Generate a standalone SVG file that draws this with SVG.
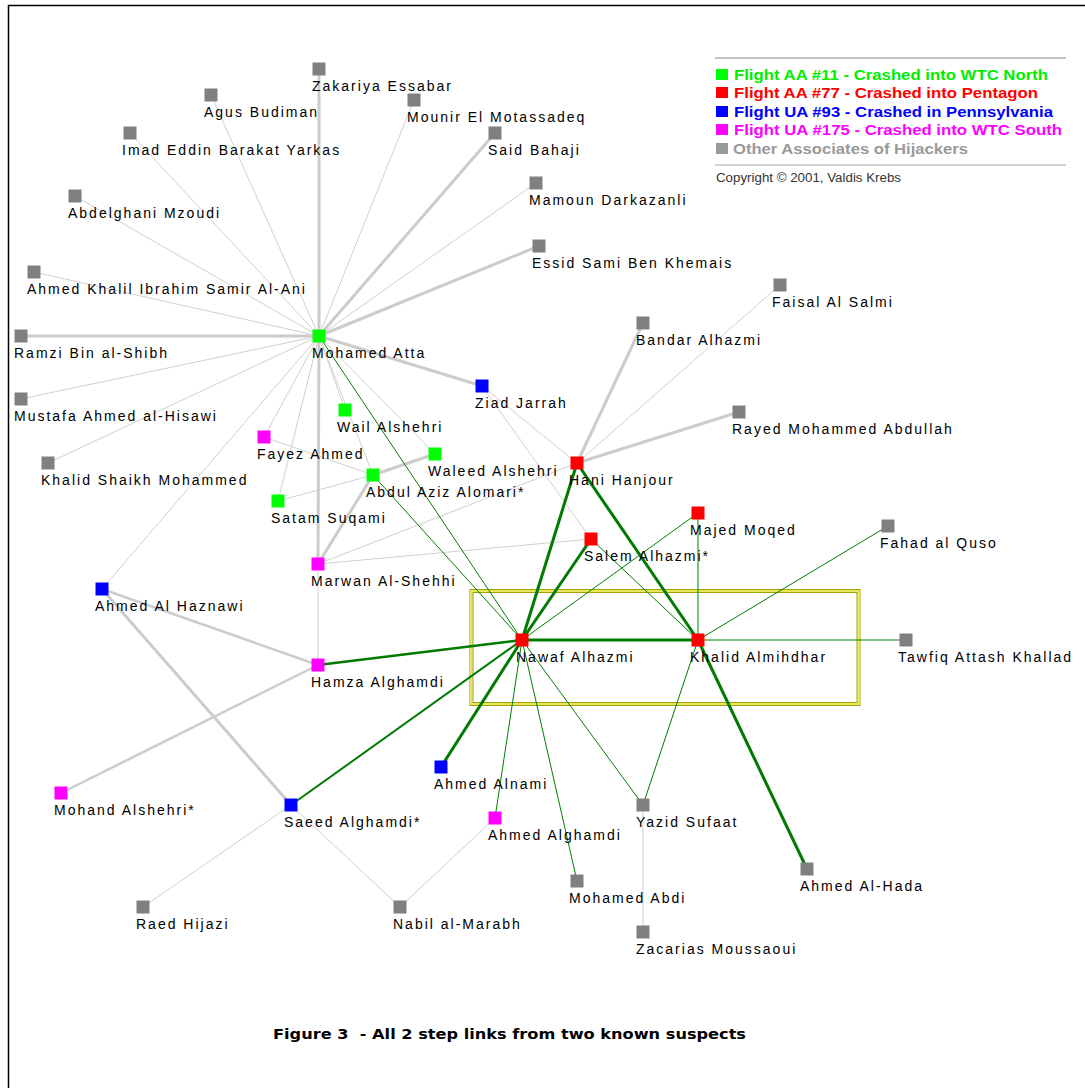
<svg xmlns="http://www.w3.org/2000/svg" width="1085" height="1088" viewBox="0 0 1085 1088">
<style>
.lbl{font-family:"Liberation Sans",Arial,sans-serif;font-size:14px;letter-spacing:2px;fill:#000}
.leg{font-family:"Liberation Sans",Arial,sans-serif;font-size:14px;font-weight:bold}
.e{stroke:#d0d0d0;stroke-width:1;fill:none}
.et{stroke:#cccccc;stroke-width:3;fill:none}
.em{stroke:#cccccc;stroke-width:2.5;fill:none}
.g{stroke:#008000;stroke-width:1;fill:none}
.gt{stroke:#007a00;stroke-width:3;fill:none}
.gm{stroke:#007a00;stroke-width:2.5;fill:none}
.gs{stroke:#007a00;stroke-width:2;fill:none}
.ng{fill:#808080}.nG{fill:#00ff00}.nR{fill:#ff0000}.nB{fill:#0000ff}.nM{fill:#ff00ff}
</style>
<rect x="0" y="0" width="1085" height="1088" fill="#fff"/>
<path d="M8.5 1088 V5.5 H1085" stroke="#000" stroke-width="1.5" fill="none"/>

<g id="highlight-box">
<rect x="470" y="589.5" width="390" height="116" fill="none" stroke="#a0a000" stroke-width="1"/>
<rect x="471.5" y="591" width="387" height="113" fill="none" stroke="#e8e860" stroke-width="2"/>
<rect x="473" y="592.5" width="384" height="110" fill="none" stroke="#a0a000" stroke-width="1"/>
</g>

<g id="connectors">
<line class="e" x1="319" y1="336" x2="211" y2="95"/>
<line class="e" x1="319" y1="336" x2="130" y2="133"/>
<line class="e" x1="319" y1="336" x2="75" y2="196"/>
<line class="e" x1="319" y1="336" x2="34" y2="272"/>
<line class="e" x1="319" y1="336" x2="21" y2="399"/>
<line class="e" x1="319" y1="336" x2="48" y2="463"/>
<line class="e" x1="319" y1="336" x2="414" y2="100"/>
<line class="e" x1="319" y1="336" x2="536" y2="183"/>
<line class="e" x1="319" y1="336" x2="345" y2="410"/>
<line class="e" x1="319" y1="336" x2="264" y2="437"/>
<line class="e" x1="319" y1="336" x2="278" y2="501"/>
<line class="e" x1="319" y1="336" x2="102" y2="589"/>
<line class="e" x1="319" y1="336" x2="373" y2="475"/>
<line class="e" x1="319" y1="336" x2="435" y2="454"/>
<line class="e" x1="264" y1="437" x2="373" y2="475"/>
<line class="e" x1="278" y1="501" x2="373" y2="475"/>
<line class="e" x1="318" y1="564" x2="577" y2="463"/>
<line class="e" x1="318" y1="564" x2="591" y2="539"/>
<line class="e" x1="318" y1="564" x2="318" y2="665"/>
<line class="e" x1="482" y1="386" x2="577" y2="463"/>
<line class="e" x1="482" y1="386" x2="591" y2="539"/>
<line class="e" x1="577" y1="463" x2="780" y2="285"/>
<line class="e" x1="291" y1="805" x2="143" y2="907"/>
<line class="e" x1="291" y1="805" x2="400" y2="907"/>
<line class="e" x1="400" y1="907" x2="495" y2="818"/>
<line class="e" x1="643" y1="805" x2="643" y2="932"/>
<line class="et" x1="319" y1="336" x2="319" y2="69"/>
<line class="et" x1="319" y1="336" x2="21" y2="336"/>
<line class="et" x1="319" y1="336" x2="495" y2="133"/>
<line class="et" x1="319" y1="336" x2="539" y2="246"/>
<line class="et" x1="319" y1="336" x2="482" y2="386"/>
<line class="et" x1="319" y1="336" x2="318" y2="564"/>
<line class="et" x1="577" y1="463" x2="643" y2="323"/>
<line class="et" x1="577" y1="463" x2="739" y2="412"/>
<line class="et" x1="373" y1="475" x2="435" y2="454"/>
<line class="et" x1="318" y1="564" x2="373" y2="475"/>
<line class="et" x1="102" y1="589" x2="291" y2="805"/>
<line class="em" x1="102" y1="589" x2="318" y2="665"/>
<line class="em" x1="318" y1="665" x2="61" y2="793"/>
<line class="g" x1="319" y1="336" x2="522" y2="640"/>
<line class="g" x1="373" y1="475" x2="522" y2="640"/>
<line class="g" x1="591" y1="539" x2="698" y2="640"/>
<line class="g" x1="698" y1="513" x2="522" y2="640"/>
<line class="g" x1="698" y1="513" x2="698" y2="640"/>
<line class="g" x1="888" y1="526" x2="698" y2="640"/>
<line class="g" x1="698" y1="640" x2="906" y2="640"/>
<line class="g" x1="522" y1="640" x2="495" y2="818"/>
<line class="g" x1="522" y1="640" x2="577" y2="881"/>
<line class="g" x1="522" y1="640" x2="643" y2="805"/>
<line class="g" x1="698" y1="640" x2="643" y2="805"/>
<line class="gt" x1="577" y1="463" x2="522" y2="640"/>
<line class="gt" x1="577" y1="463" x2="698" y2="640"/>
<line class="gt" x1="591" y1="539" x2="522" y2="640"/>
<line class="gt" x1="522" y1="640" x2="698" y2="640"/>
<line class="gt" x1="522" y1="640" x2="441" y2="767"/>
<line class="gt" x1="698" y1="640" x2="807" y2="869"/>
<line class="gm" x1="318" y1="665" x2="522" y2="640"/>
<line class="gs" x1="291" y1="805" x2="522" y2="640"/>
</g>

<g id="n1"><rect class="ng" x="312.5" y="62.5" width="13" height="13"/><text class="lbl" x="312" y="91">Zakariya Essabar</text></g>
<g id="n2"><rect class="ng" x="204.5" y="88.5" width="13" height="13"/><text class="lbl" x="204" y="117">Agus Budiman</text></g>
<g id="n3"><rect class="ng" x="407.5" y="93.5" width="13" height="13"/><text class="lbl" x="407" y="122">Mounir El Motassadeq</text></g>
<g id="n4"><rect class="ng" x="123.5" y="126.5" width="13" height="13"/><text class="lbl" x="122" y="155">Imad Eddin Barakat Yarkas</text></g>
<g id="n5"><rect class="ng" x="488.5" y="126.5" width="13" height="13"/><text class="lbl" x="488" y="155">Said Bahaji</text></g>
<g id="n6"><rect class="ng" x="529.5" y="176.5" width="13" height="13"/><text class="lbl" x="529" y="205">Mamoun Darkazanli</text></g>
<g id="n7"><rect class="ng" x="68.5" y="189.5" width="13" height="13"/><text class="lbl" x="68" y="218">Abdelghani Mzoudi</text></g>
<g id="n8"><rect class="ng" x="532.5" y="239.5" width="13" height="13"/><text class="lbl" x="532" y="268">Essid Sami Ben Khemais</text></g>
<g id="n9"><rect class="ng" x="27.5" y="265.5" width="13" height="13"/><text class="lbl" x="27" y="294">Ahmed Khalil Ibrahim Samir Al-Ani</text></g>
<g id="n10"><rect class="ng" x="773.5" y="278.5" width="13" height="13"/><text class="lbl" x="772" y="307">Faisal Al Salmi</text></g>
<g id="n11"><rect class="ng" x="636.5" y="316.5" width="13" height="13"/><text class="lbl" x="636" y="345">Bandar Alhazmi</text></g>
<g id="n12"><rect class="ng" x="14.5" y="329.5" width="13" height="13"/><text class="lbl" x="14" y="358">Ramzi Bin al-Shibh</text></g>
<g id="n13"><rect class="nG" x="312.5" y="329.5" width="13" height="13"/><text class="lbl" x="312" y="358">Mohamed Atta</text></g>
<g id="n14"><rect class="nB" x="475.5" y="379.5" width="13" height="13"/><text class="lbl" x="475" y="408">Ziad Jarrah</text></g>
<g id="n15"><rect class="ng" x="14.5" y="392.5" width="13" height="13"/><text class="lbl" x="14" y="421">Mustafa Ahmed al-Hisawi</text></g>
<g id="n16"><rect class="nG" x="338.5" y="403.5" width="13" height="13"/><text class="lbl" x="337" y="432">Wail Alshehri</text></g>
<g id="n17"><rect class="ng" x="732.5" y="405.5" width="13" height="13"/><text class="lbl" x="732" y="434">Rayed Mohammed Abdullah</text></g>
<g id="n18"><rect class="nM" x="257.5" y="430.5" width="13" height="13"/><text class="lbl" x="257" y="459">Fayez Ahmed</text></g>
<g id="n19"><rect class="nG" x="428.5" y="447.5" width="13" height="13"/><text class="lbl" x="428" y="476">Waleed Alshehri</text></g>
<g id="n20"><rect class="ng" x="41.5" y="456.5" width="13" height="13"/><text class="lbl" x="41" y="485">Khalid Shaikh Mohammed</text></g>
<g id="n21"><rect class="nR" x="570.5" y="456.5" width="13" height="13"/><text class="lbl" x="569" y="485">Hani Hanjour</text></g>
<g id="n22"><rect class="nG" x="366.5" y="468.5" width="13" height="13"/><text class="lbl" x="366" y="497">Abdul Aziz Alomari*</text></g>
<g id="n23"><rect class="nG" x="271.5" y="494.5" width="13" height="13"/><text class="lbl" x="271" y="523">Satam Suqami</text></g>
<g id="n24"><rect class="nR" x="691.5" y="506.5" width="13" height="13"/><text class="lbl" x="690" y="535">Majed Moqed</text></g>
<g id="n25"><rect class="ng" x="881.5" y="519.5" width="13" height="13"/><text class="lbl" x="880" y="548">Fahad al Quso</text></g>
<g id="n26"><rect class="nR" x="584.5" y="532.5" width="13" height="13"/><text class="lbl" x="584" y="561">Salem Alhazmi*</text></g>
<g id="n27"><rect class="nM" x="311.5" y="557.5" width="13" height="13"/><text class="lbl" x="311" y="586">Marwan Al-Shehhi</text></g>
<g id="n28"><rect class="nB" x="95.5" y="582.5" width="13" height="13"/><text class="lbl" x="95" y="611">Ahmed Al Haznawi</text></g>
<g id="n29"><rect class="nR" x="515.5" y="633.5" width="13" height="13"/><text class="lbl" x="516" y="662">Nawaf Alhazmi</text></g>
<g id="n30"><rect class="nR" x="691.5" y="633.5" width="13" height="13"/><text class="lbl" x="690" y="662">Khalid Almihdhar</text></g>
<g id="n31"><rect class="ng" x="899.5" y="633.5" width="13" height="13"/><text class="lbl" x="898" y="662">Tawfiq Attash Khallad</text></g>
<g id="n32"><rect class="nM" x="311.5" y="658.5" width="13" height="13"/><text class="lbl" x="311" y="687">Hamza Alghamdi</text></g>
<g id="n33"><rect class="nB" x="434.5" y="760.5" width="13" height="13"/><text class="lbl" x="434" y="789">Ahmed Alnami</text></g>
<g id="n34"><rect class="nM" x="54.5" y="786.5" width="13" height="13"/><text class="lbl" x="54" y="815">Mohand Alshehri*</text></g>
<g id="n35"><rect class="ng" x="636.5" y="798.5" width="13" height="13"/><text class="lbl" x="636" y="827">Yazid Sufaat</text></g>
<g id="n36"><rect class="nB" x="284.5" y="798.5" width="13" height="13"/><text class="lbl" x="284" y="827">Saeed Alghamdi*</text></g>
<g id="n37"><rect class="nM" x="488.5" y="811.5" width="13" height="13"/><text class="lbl" x="488" y="840">Ahmed Alghamdi</text></g>
<g id="n38"><rect class="ng" x="800.5" y="862.5" width="13" height="13"/><text class="lbl" x="800" y="891">Ahmed Al-Hada</text></g>
<g id="n39"><rect class="ng" x="570.5" y="874.5" width="13" height="13"/><text class="lbl" x="569" y="903">Mohamed Abdi</text></g>
<g id="n40"><rect class="ng" x="136.5" y="900.5" width="13" height="13"/><text class="lbl" x="136" y="929">Raed Hijazi</text></g>
<g id="n41"><rect class="ng" x="393.5" y="900.5" width="13" height="13"/><text class="lbl" x="393" y="929">Nabil al-Marabh</text></g>
<g id="n42"><rect class="ng" x="636.5" y="925.5" width="13" height="13"/><text class="lbl" x="636" y="954">Zacarias Moussaoui</text></g>

<g id="legend">
<line x1="715" y1="58" x2="1066" y2="58" stroke="#c4c4c4" stroke-width="2"/>
<rect x="716" y="69" width="12" height="11" fill="#00ff00"/>
<text class="leg" x="734" y="80" fill="#00ee00" textLength="314" lengthAdjust="spacingAndGlyphs">Flight AA #11 - Crashed into WTC North</text>
<rect x="716" y="87" width="12" height="11" fill="#ff0000"/>
<text class="leg" x="734" y="98" fill="#ff0000" textLength="304" lengthAdjust="spacingAndGlyphs">Flight AA #77 - Crashed into Pentagon</text>
<rect x="716" y="106" width="12" height="11" fill="#0000ff"/>
<text class="leg" x="734" y="117" fill="#0000ff" textLength="319" lengthAdjust="spacingAndGlyphs">Flight UA #93 - Crashed in Pennsylvania</text>
<rect x="716" y="124" width="12" height="11" fill="#ff00ff"/>
<text class="leg" x="734" y="135" fill="#ff00ff" textLength="328" lengthAdjust="spacingAndGlyphs">Flight UA #175 - Crashed into WTC South</text>
<rect x="716" y="143" width="12" height="11" fill="#999999"/>
<text class="leg" x="733" y="154" fill="#999999" textLength="235" lengthAdjust="spacingAndGlyphs">Other Associates of Hijackers</text>
<line x1="715" y1="165" x2="1066" y2="165" stroke="#c4c4c4" stroke-width="1.5"/>
<text x="716" y="182" font-family="Liberation Sans, Arial, sans-serif" font-size="12" fill="#333" textLength="185" lengthAdjust="spacingAndGlyphs">Copyright © 2001, Valdis Krebs</text>
</g>

<text id="title" x="273" y="1039" font-family="DejaVu Sans, Verdana, sans-serif" font-size="14" font-weight="bold" fill="#000" textLength="473" lengthAdjust="spacingAndGlyphs" xml:space="preserve">Figure 3  - All 2 step links from two known suspects</text>
</svg>
